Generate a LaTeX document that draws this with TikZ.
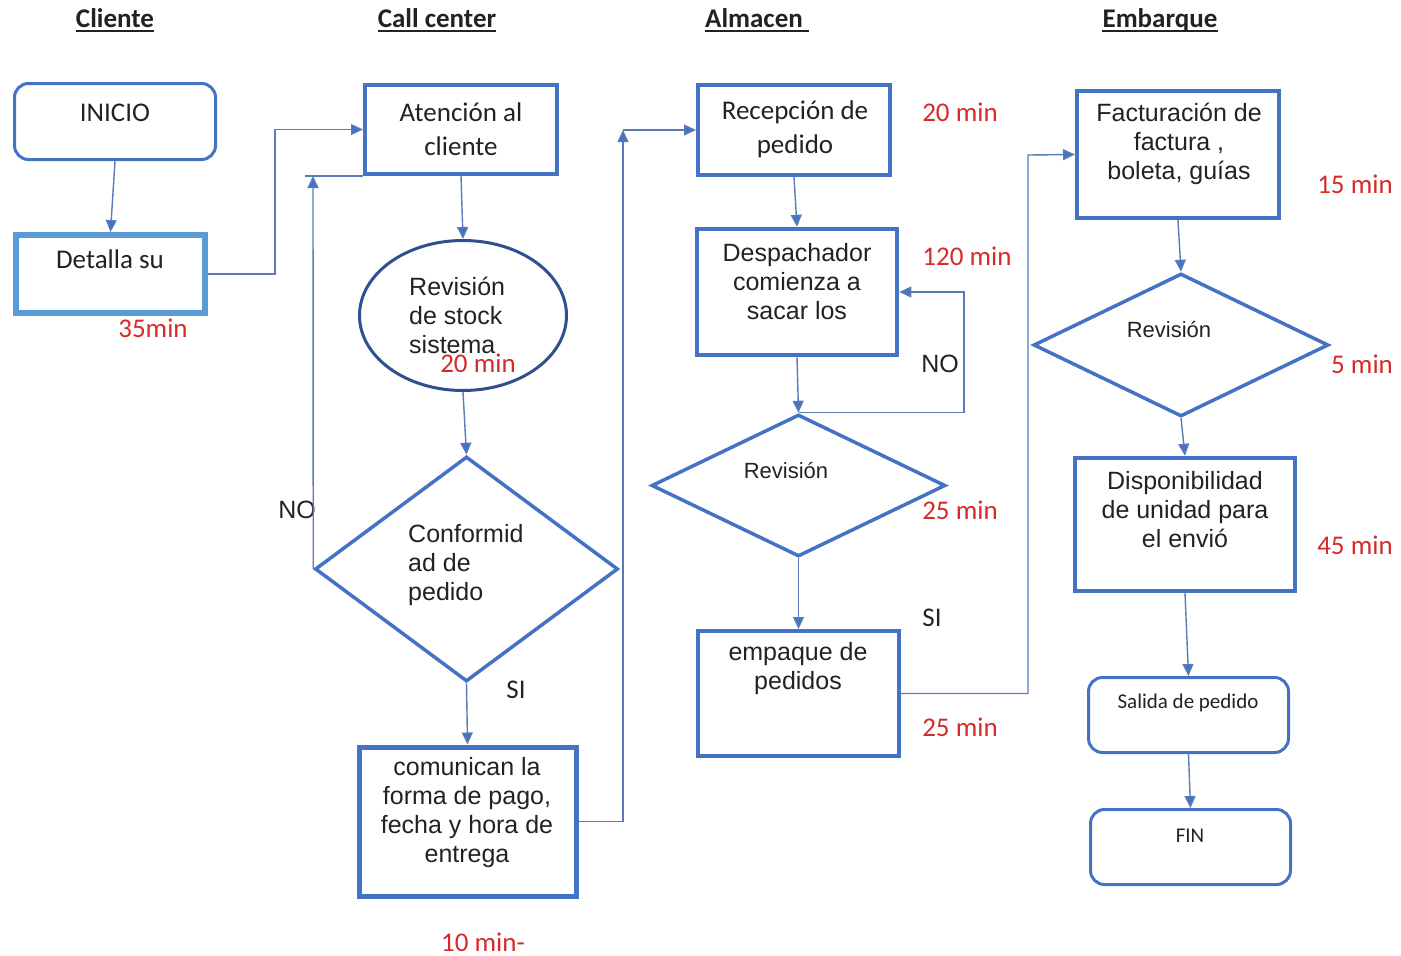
\documentclass[tikz,border=0pt]{standalone}
\usepackage{fontspec}
\setmainfont{Carlito}
\newfontfamily\arl{Liberation Sans}
\usetikzlibrary{shapes.geometric,arrows.meta}
\definecolor{boxblue}{HTML}{4472C4}
\definecolor{lightblue}{HTML}{5B9BD5}
\definecolor{navy}{HTML}{2F4F8F}
\definecolor{linecol}{HTML}{5A7BB5}
\definecolor{timered}{HTML}{D42A2A}
\definecolor{ink}{HTML}{222222}
\newcommand\cbig{\fontsize{27}{34}\selectfont}
\newcommand\asize{\fontsize{25}{29}\selectfont}
\newcommand\csmall{\fontsize{21}{25}\selectfont}
\begin{document}
\begin{tikzpicture}[x=1pt,y=-1pt,
  every node/.style={text=ink},
  pbox/.style={draw=boxblue, rectangle, line width=4pt, inner sep=0pt},
  term/.style={draw=boxblue, rectangle, rounded corners=14pt, line width=3pt, inner sep=0pt},
  decide/.style={draw=boxblue, diamond, line width=3.5pt, inner sep=0pt},
  ctext/.style={font=\cbig, align=center, inner sep=0pt},
  atext/.style={font=\arl\asize, align=center, inner sep=0pt},
  ltext/.style={font=\arl\asize, align=left, inner sep=0pt, anchor=west},
  tm/.style={font=\cbig, text=timered, inner sep=0pt},
  head/.style={font=\cbig\bfseries, inner sep=0pt, anchor=base},
  uline/.style={draw=ink, line width=1.8pt},
  plain/.style={draw=linecol, line width=1.4pt},
  flow/.style={plain, -{Triangle[length=12pt,width=11pt,fill=boxblue]}},
]
\useasboundingbox (0,0) rectangle (1401,956);

% lane headings
\node[head] (hCli) at (115,27) {Cliente};
\node[head] (hCall) at (437,27) {Call center};
\node[head] (hAlm) at (754,27) {Almacen};
\node[head] (hEmb) at (1160,27) {Embarque};
\draw[uline] ([yshift=-4pt]hCli.base west) -- ([yshift=-4pt]hCli.base east);
\draw[uline] ([yshift=-4pt]hCall.base west) -- ([yshift=-4pt]hCall.base east);
\draw[uline] ([yshift=-4pt]hAlm.base west) -- ([yshift=-4pt,xshift=6pt]hAlm.base east);
\draw[uline] ([yshift=-4pt]hEmb.base west) -- ([yshift=-4pt]hEmb.base east);

% Cliente
\node[term, minimum width=201pt, minimum height=76pt] (inicio) at (115,121.5) {};
\node[ctext] (tInicio) at (115,113) {INICIO};
\node[pbox, draw=lightblue, line width=6pt, minimum width=189pt, minimum height=78pt] (detalla) at (110.5,274) {};
\node[ctext] (tDetalla) at (110,259) {Detalla su};
\node[tm] (m35) at (153,328) {35min};

% Call center
\node[pbox, minimum width=192pt, minimum height=89pt] (aten) at (461,129.5) {};
\node[ctext] (tAten) at (461,129) {Atención al\\cliente};
\node[ellipse, draw=navy, line width=3pt, inner sep=0pt, minimum width=207pt, minimum height=150pt] (stock) at (463,315.5) {};
\node[ltext] (tStock) at (409,315) {Revisión\\de stock\\sistema};
\node[tm] (m20a) at (478,363) {20 min};
\node[decide, minimum width=303pt, minimum height=225pt, aspect=1.35] (conf) at (466.5,569) {};
\node[ltext] (tConf) at (408,565) {Conformid\\ad de\\pedido};
\node[font=\arl\asize, inner sep=0pt] (lNo1) at (297,510) {NO};
\node[ctext] (lSi1) at (516,690) {SI};
\node[pbox, line width=5pt, minimum width=217pt, minimum height=149pt] (comun) at (467.5,821.5) {};
\node[atext] (tComun) at (467,813) {comunican la\\forma de pago,\\fecha y hora de\\entrega};
\node[tm] (m10) at (483,942) {10 min-};

% Almacen
\node[pbox, minimum width=192pt, minimum height=90pt] (recep) at (794,130) {};
\node[ctext] (tRecep) at (795,129) {Recepción de\\pedido};
\node[tm] (m20b) at (960,112) {20 min};
\node[pbox, line width=4.5pt, minimum width=200pt, minimum height=126pt] (desp) at (797,292) {};
\node[atext] (tDesp) at (797,282) {Despachador\\comienza a\\sacar los};
\node[tm] (m120) at (967,256) {120 min};
\node[font=\arl\asize, inner sep=0pt] (lNo2) at (940,364) {NO};
\node[decide, minimum width=294pt, minimum height=142pt, aspect=2.07] (rev1) at (798.5,485.5) {};
\node[font=\arl\fontsize{22}{26}\selectfont, inner sep=0pt] (tRev1) at (786,471) {Revisión};
\node[tm] (m25a) at (960,510) {25 min};
\node[ctext] (lSi2) at (932,618) {SI};
\node[pbox, minimum width=201pt, minimum height=125pt] (emp) at (798.5,693.5) {};
\node[atext] (tEmp) at (798,669) {empaque de\\pedidos};
\node[tm] (m25b) at (960,727) {25 min};

% Embarque
\node[pbox, minimum width=202pt, minimum height=127pt] (fact) at (1178,154.5) {};
\node[atext] (tFact) at (1179,144) {Facturación de\\factura ,\\boleta, guías};
\node[tm] (m15) at (1355,184) {15 min};
\node[decide, minimum width=295pt, minimum height=143pt, aspect=2.06] (rev2) at (1181,345) {};
\node[font=\arl\fontsize{22}{26}\selectfont, inner sep=0pt] (tRev2) at (1169,330) {Revisión};
\node[tm] (m5) at (1362,364) {5 min};
\node[pbox, line width=4.5pt, minimum width=220pt, minimum height=133pt] (disp) at (1185,524.5) {};
\node[atext] (tDisp) at (1185,510) {Disponibilidad\\de unidad para\\el envió};
\node[tm] (m45) at (1355,545) {45 min};
\node[term, minimum width=200pt, minimum height=75pt] (salida) at (1188.5,715) {};
\node[font=\csmall, inner sep=0pt] (tSalida) at (1188,703) {Salida de pedido};
\node[term, minimum width=200pt, minimum height=75pt] (fin) at (1190.5,847) {};
\node[font=\csmall, inner sep=0pt] (tFin) at (1190,836) {FIN};

% connectors
\coordinate (noC) at (313,176);
\coordinate (up1) at (623,130);
\coordinate (noR) at (964,292);
\coordinate (c3) at (1028,155);

\draw[flow] (inicio.south) -- (detalla.north);
\draw[flow] (detalla.east) -- ++(67,0) |- (aten.west);
\draw[flow] (aten.south) -- (stock.north);
\draw[flow] (stock.south) -- (conf.north);
\draw[flow] (conf.west) -- (noC);
\draw[plain] ([xshift=-8pt]noC) -- (aten.south west);
\draw[flow] (conf.south) -- (comun.north);
\draw[flow] (comun.east) -| (up1);
\draw[flow] (up1) -- (recep.west);
\draw[flow] (recep.south) -- (desp.north);
\draw[flow] (desp.south) -- (rev1.north);
\draw[flow] (rev1.north) -| (noR) -- (desp.east);
\draw[flow] (rev1.south) -- (emp.north);
\draw[flow] (emp.east) -| (c3) -- (fact.west);
\draw[flow] (fact.south) -- (rev2.north);
\draw[flow] (rev2.south) -- (disp.north);
\draw[flow] (disp.south) -- (salida.north);
\draw[flow] (salida.south) -- (fin.north);
\end{tikzpicture}
\end{document}
